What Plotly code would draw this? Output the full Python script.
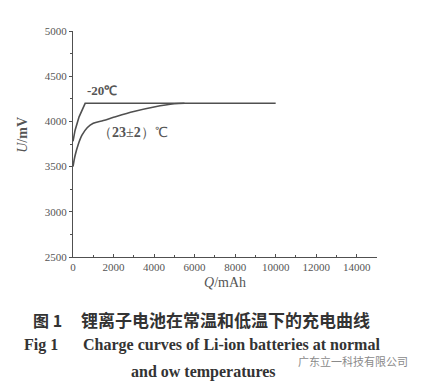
import plotly.graph_objects as go

# Data
q_normal = [0, 100, 250, 450, 700, 1000, 1500, 2000, 3000, 4000, 5000, 5500]
u_normal = [3500, 3620, 3740, 3850, 3930, 3980, 4010, 4045, 4110, 4160, 4195, 4200]
q_cold = [0, 100, 300, 600, 10000]
u_cold = [3780, 3900, 4050, 4200, 4200]

x_ticks = [0, 2000, 4000, 6000, 8000, 10000, 12000, 14000]
y_ticks = [2500, 3000, 3500, 4000, 4500, 5000]

line_col = "#505050"
txt_col = "#555555"
serif = "Liberation Serif, Times New Roman, serif"
cjk = "Noto Sans CJK SC"

fig = go.Figure()
fig.add_trace(go.Scatter(x=q_cold, y=u_cold, mode="lines",
                         line=dict(color=line_col, width=1.6), showlegend=False))
fig.add_trace(go.Scatter(x=q_normal, y=u_normal, mode="lines", line_shape="spline",
                         line=dict(color=line_col, width=1.6), showlegend=False))

fig.update_layout(
    width=426, height=384,
    margin=dict(l=73, r=49, t=31, b=127),
    paper_bgcolor="white", plot_bgcolor="white",
    font=dict(family=serif, color=txt_col, size=11),
    xaxis=dict(range=[0, 15000], tickvals=x_ticks, ticktext=[str(v) for v in x_ticks],
               showgrid=False, zeroline=False, showline=True, linecolor=line_col, linewidth=1.3,
               ticks="inside", ticklen=3, tickcolor=line_col,
               minor=dict(dtick=1000, tick0=0, ticks="inside", ticklen=2, tickcolor=line_col),
               tickfont=dict(family=serif, size=11, color=txt_col)),
    yaxis=dict(range=[2500, 5000], tickvals=y_ticks, ticktext=[str(v) for v in y_ticks],
               showgrid=False, zeroline=False, showline=True, linecolor=line_col, linewidth=1.3,
               ticks="outside", ticklen=3, tickcolor=line_col,
               minor=dict(dtick=250, tick0=2500, ticks="outside", ticklen=2, tickcolor=line_col),
               tickfont=dict(family=serif, size=11, color=txt_col)),
)

# curve labels
fig.add_annotation(x=1450, y=4340, text="<b>-20℃</b>", showarrow=False,
                   font=dict(family=serif, size=13, color=txt_col))
fig.add_annotation(x=2950, y=3875, text="（<b>23</b>±<b>2</b>）℃", showarrow=False,
                   font=dict(family=serif, size=14, color=txt_col))

# axis titles
fig.add_annotation(xref="paper", yref="paper", x=-0.165, y=0.54, xanchor="center", yanchor="middle",
                   text="<i>U</i>/<b>mV</b>", showarrow=False, textangle=-90,
                   font=dict(family=serif, size=14, color=txt_col))
fig.add_annotation(xref="paper", yref="paper", x=0.5, y=-0.115, xanchor="center", yanchor="middle",
                   text="<i>Q</i>/mAh", showarrow=False,
                   font=dict(family=serif, size=14, color=txt_col))

# captions
cap_col = "#333333"
fig.add_annotation(xref="paper", yref="paper", x=-0.085, y=-0.278, xanchor="center", yanchor="middle",
                   text="<b>图 1</b>", showarrow=False,
                   font=dict(family=cjk, size=16, color=cap_col))
fig.add_annotation(xref="paper", yref="paper", x=0.503, y=-0.278, xanchor="center", yanchor="middle",
                   text="<b>锂离子电池在常温和低温下的充电曲线</b>", showarrow=False,
                   font=dict(family=cjk, size=17, color=cap_col))
fig.add_annotation(xref="paper", yref="paper", x=-0.105, y=-0.39, xanchor="center", yanchor="middle",
                   text="<b>Fig 1</b>", showarrow=False,
                   font=dict(family=serif, size=16, color=cap_col))
fig.add_annotation(xref="paper", yref="paper", x=0.523, y=-0.39, xanchor="center", yanchor="middle",
                   text="<b>Charge curves of Li-ion batteries at normal</b>", showarrow=False,
                   font=dict(family=serif, size=16, color=cap_col))
fig.add_annotation(xref="paper", yref="paper", x=0.428, y=-0.51, xanchor="center", yanchor="middle",
                   text="<b>and ow temperatures</b>", showarrow=False,
                   font=dict(family=serif, size=16, color=cap_col))
fig.add_annotation(xref="paper", yref="paper", x=1.11, y=-0.462, xanchor="right", yanchor="middle",
                   text="广东立一科技有限公司", showarrow=False,
                   font=dict(family=cjk, size=11, color="#8a8a8a"))

fig.write_html("out.html", config={"displayModeBar": False},
               post_script="document.body.style.margin='0';")
